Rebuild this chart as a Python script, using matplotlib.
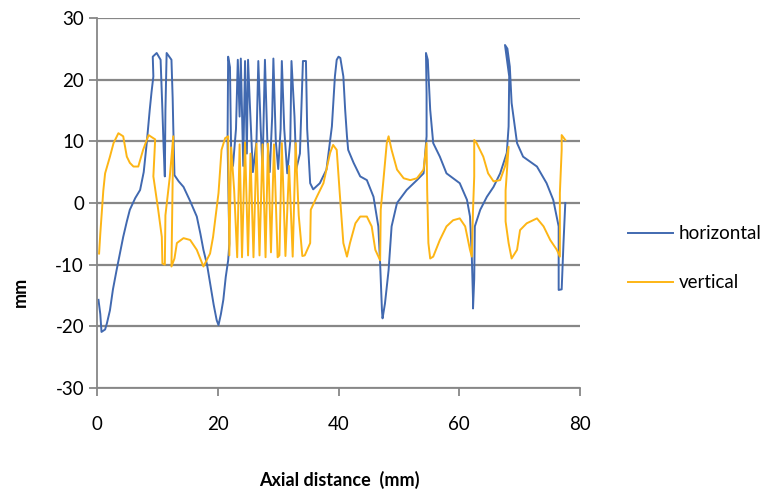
import matplotlib
matplotlib.use("Agg")
import matplotlib.pyplot as plt

# horizontal displacement trace (x = axial distance, y = mm)
hx = [0.2, 0.5, 0.7, 1.3, 1.6, 2.1, 2.6, 3.2, 3.8, 4.3, 4.9, 5.4, 6.3, 7.1, 7.7, 8.2, 8.7, 9.0, 9.3,
      9.2, 9.85, 10.5, 10.7, 10.8, 11.0, 11.2, 11.3, 11.5, 12.3, 12.5, 12.6, 12.8, 13.5, 14.3, 15.4,
      16.5, 17.1, 17.6, 18.2, 18.7, 19.3, 19.8, 20.1, 20.5, 20.9, 21.3, 21.7, 21.9,
      21.6, 21.7, 22.0, 22.2, 22.5, 23.0, 23.3, 23.6, 23.8, 24.2, 24.5, 24.8, 25.0, 25.3, 25.8,
      26.4, 26.7, 27.1, 27.4, 27.8, 28.2, 28.6, 29.0, 29.2, 29.6, 30.0, 30.4, 30.6, 31.0, 31.5,
      32.0, 32.2, 32.7, 33.0, 33.6, 34.1, 34.6, 34.8,
      35.3, 35.8, 36.9, 38.0, 38.9, 39.4, 39.7, 40.0, 40.3, 40.8, 41.1, 41.4, 41.6, 42.5, 43.6,
      44.7, 45.8, 46.6, 46.9, 47.2, 47.3, 47.7, 48.3, 48.8, 49.7, 51.3, 53.0, 54.1, 54.6, 54.6,
      54.5, 54.8, 55.2, 55.7, 56.8, 57.9, 59.0, 60.1, 61.3, 61.8, 62.1, 62.3, 62.3, 62.5, 62.6,
      63.5, 64.6, 65.7, 66.8, 67.9, 68.2, 68.3, 67.6, 68.0, 68.4, 68.7, 69.6, 70.6, 72.9, 74.5,
      75.6, 76.5, 76.5, 77.0, 77.3, 77.6]
hy = [-15.7, -18, -20.9, -20.5, -19.5, -17.4, -14, -10.9, -8, -5.5, -3, -1.1, 0.8, 2.1, 5, 9.7, 15.1, 18, 20.5,
      23.7, 24.3, 23.2, 18, 15, 9, 4.3, 15, 24.3, 23.2, 17, 12.4, 4.5, 3.5, 2.6, 0.3,
      -2.2, -5, -7.6, -10, -13, -16.5, -19, -19.8, -18, -15.7, -12, -9.3, -6.6,
      10, 23.7, 22, 8, 6, 12, 23.2, 14, 23.4, 6, 23, 8, 23.2, 16, 5,
      10, 23, 12, 5.5, 23.2, 10, 5, 14, 23.4, 10, 5.5, 12, 23, 12, 4.8,
      10, 23, 14, 5.5, 8, 23, 23, 12,
      3.2, 2.2, 3.2, 5.4, 12.4, 20.5, 23.2, 23.7, 23.5, 20.5, 15.1, 10.8, 8.6, 6.5, 4.3,
      3.7, 1.0, -3.8, -9.8, -17.4, -18.7, -16.3, -10.9, -3.8, 0, 2.1, 3.7, 4.8, 10.8, 17.8,
      24.3, 23.2, 15.1, 9.7, 7.5, 4.8, 4.0, 3.2, 0.5, -2.2, -8.7, -15.7, -17.1, -12.3, -3.8,
      -1.1, 1.0, 2.6, 4.8, 8.1, 12.4, 20.5, 25.6, 25.0, 22.1, 16.2, 9.7, 7.5, 5.9, 3.2,
      0.5, -3.8, -14.1, -14.0, -6.5, 0]

# vertical displacement trace
vx = [0.3, 0.5, 0.7, 1.0, 1.3, 2.1, 2.7, 3.5, 4.3, 4.9, 5.4, 6.0, 6.8, 7.6, 8.5, 9.6, 9.3, 10.1,
      10.7, 10.8, 11.2, 11.3, 12.0, 12.6, 12.4, 12.3, 12.8, 13.2, 14.3, 15.4, 16.5, 17.6, 18.7,
      19.2, 20.1, 20.6, 21.2, 21.7,
      21.9, 22.2, 22.7, 23.2, 23.6, 24.0, 24.5, 25.0, 25.4, 25.9, 26.4, 26.9, 27.4, 27.9, 28.3,
      28.8, 29.3, 29.9, 30.2, 30.6, 31.2, 31.8, 32.4, 32.9, 33.4, 34.0, 34.4,
      35.3, 35.4, 36.4, 37.5, 38.6, 39.1, 39.7, 40.2, 40.8, 41.4, 41.9, 42.8, 43.6, 44.7, 45.5,
      46.1, 46.9, 47.0, 47.5, 48.0, 48.3, 48.8, 49.7, 50.8, 51.9, 53.0, 54.1, 54.6, 54.7, 54.9,
      55.2, 55.7, 56.8, 57.9, 59.0, 60.1, 61.0, 61.8, 62.1, 62.3, 62.5, 62.5, 62.9, 64.0, 64.8,
      65.7, 66.8, 67.6, 68.2, 67.7, 67.7, 68.2, 68.7, 69.6, 70.1, 71.2, 72.9, 74.0, 75.1, 76.2,
      76.7, 76.7, 77.0, 77.0, 77.6]
vy = [-8.2, -5, -2.2, 2, 4.8, 7.5, 9.7, 11.3, 10.8, 7.5, 6.5, 5.9, 5.9, 8.6, 11, 10.3, 4.3, -1.1,
      -5.5, -9.8, -10, -2, 4, 10.8, -3, -10.3, -9, -6.5, -5.7, -6, -7.6, -10.3, -8.2,
      -5.5, 1.6, 8.6, 10.5, 10.8,
      -8.5, 9, 2, -8.8, 9.5, -8.8, 9.8, -8.5, 8, -8.8, 9.6, -8.5, 9.5, -8.8, 9.6,
      -8, 9.5, -8.8, -8.5, 9.7, -8.6, 6, -8.7, 9.7, -2, -8.6, -8.5,
      -6.5, -1.1, 1, 3.2, 8.1, 9.4, 8.6, 1.6, -6.5, -8.7, -6.5, -3.3, -2.2, -2.2, -3.8,
      -7.6, -9.3, -1.1, 4.3, 9.7, 10.8, 8.6, 5.4, 4.0, 3.7, 4.0, 5.4, 9.7, 2, -6.5,
      -9, -8.7, -6, -3.8, -2.8, -2.5, -3.8, -7.6, -8.7, -1.1, 4.3, 10.2, 9.7, 7.5, 4.8,
      3.5, 3.7, 5.9, 9.1, 2, -3, -6.5, -9, -7.6, -4.4, -3.3, -2.5, -3.8, -6, -7.6,
      -8.7, 1.6, 8.6, 11, 10.2]

plt.rcParams['font.family'] = ['Lato', 'DejaVu Sans']
plt.rcParams['axes.unicode_minus'] = False

fig = plt.figure(figsize=(7.72, 4.95), dpi=100)
ax = fig.add_axes([0.126, 0.216, 0.625, 0.748])

grey = '#878787'
ax.plot(hx, hy, color='#4169B0', lw=1.4, label='horizontal')
ax.plot(vx, vy, color='#FDB515', lw=1.4, label='vertical')

ax.set_xlim(0, 80)
ax.set_ylim(-30, 30)
ax.set_xticks([0, 20, 40, 60, 80])
ax.set_yticks(range(-30, 31, 10))
ax.yaxis.grid(True, color=grey, lw=1.6)
ax.set_axisbelow(True)
for s in ['top', 'right']:
    ax.spines[s].set_visible(False)
for s in ['left', 'bottom']:
    ax.spines[s].set_color(grey)
    ax.spines[s].set_linewidth(1.3)
ax.tick_params(colors=grey, labelcolor='black', labelsize=13.5, length=6, width=1.3)
ax.tick_params(axis='x', pad=14)

fig.text(0.026, 0.41, 'mm', rotation=90, ha='center', va='center', fontsize=13, fontweight='bold')
fig.text(0.44, 0.03, 'Axial distance  (mm)', ha='center', va='center', fontsize=13, fontweight='bold')

fig.legend(loc='center left', bbox_to_anchor=(0.797, 0.478), frameon=False, fontsize=13.5,
           handlelength=2.4, labelspacing=1.7, handletextpad=0.3, borderpad=0.2)

fig.savefig('out.png', dpi=100)
